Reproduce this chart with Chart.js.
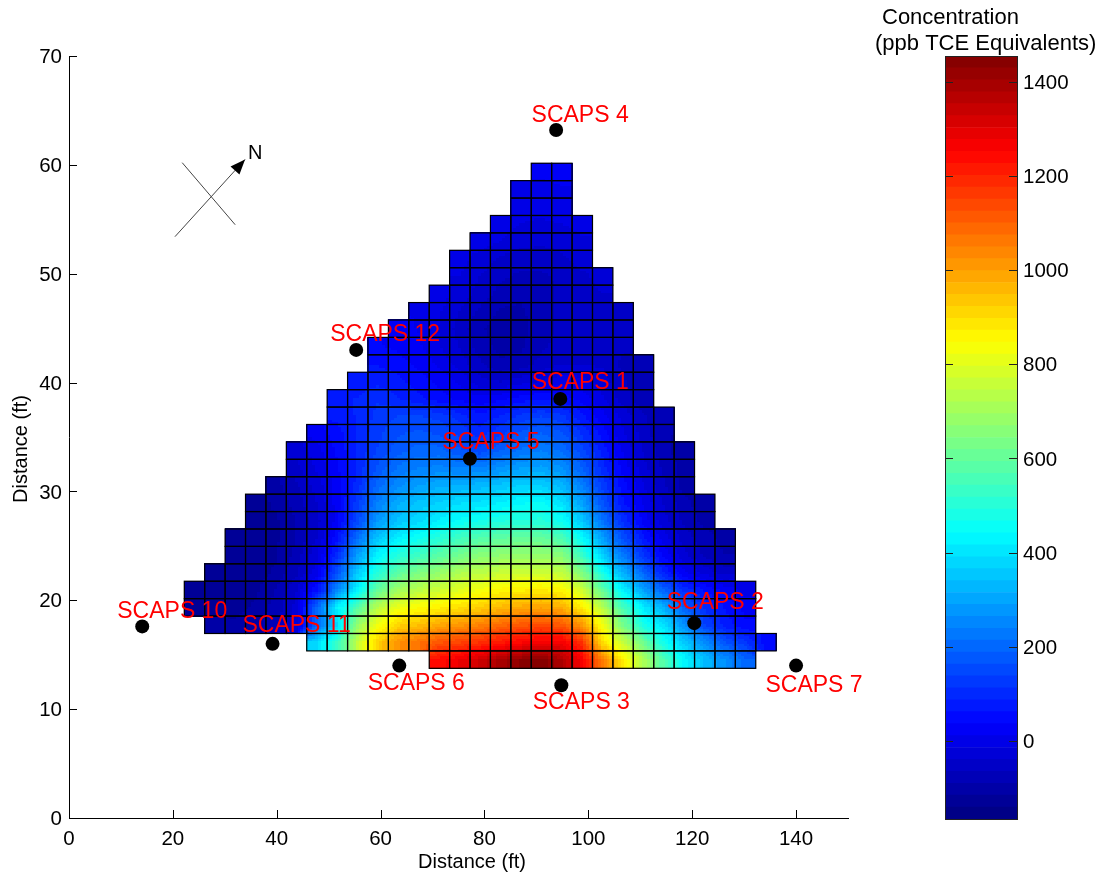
<!DOCTYPE html>
<html><head><meta charset="utf-8">
<style>html,body{margin:0;padding:0;background:#fff}canvas{position:absolute;left:0;top:0}</style>
<script src="https://cdn.jsdelivr.net/npm/chart.js@4"></script>
</head><body>
<canvas id="main" width="1107" height="876"></canvas>
<canvas id="bar" width="1107" height="876"></canvas>
<script>
// ---- data ----
const xTicks=[0,20,40,60,80,100,120,140];
const yTicks=[0,10,20,30,40,50,60,70];
const colorTicks=[0,200,400,600,800,1000,1200,1400];
const colorMin=-166, colorMax=1455;
const wellNames=['SCAPS 1','SCAPS 2','SCAPS 3','SCAPS 4','SCAPS 5','SCAPS 6','SCAPS 7','SCAPS 10','SCAPS 11','SCAPS 12'];
const wellX=[94.6,120.4,94.8,93.8,77.2,63.6,140,14.1,39.2,55.3];
const wellY=[38.5,17.9,12.2,63.2,33.0,14.0,14.0,17.6,16.0,43.0];
const labelDx=[20,21,20,24,21,17,18,30,24,29];
const labelDy=[-16,-20,17,-14,-16,18,20,-15,-18,-15];
// first occupied column of each row, bottom row first
const rowStart=[12,6,1,0,0,1,2,2,3,3,4,5,5,6,7,7,8,9,9,10,11,12,13,13,14,15,16,16,17];
const row00=[1240,1280,1330,1390,1430,1450,1380,1270,1060,880,720,570,440,340,265,200];
const row01=[380,520,750,920,1020,1070,1120,1150,1180,1220,1250,1270,1270,1180,900,760,620,470,360,260,170,120,50];
const row02=[-100,-110,-100,-70,-30,200,380,680,830,920,950,990,1020,1050,1090,1120,1140,1120,1020,830,640,480,400,270,140,80,40];
const row03=[-120,-130,-125,-110,-80,-30,200,420,580,740,820,850,870,900,930,960,990,1000,980,880,740,560,420,320,200,110,60,30];
const row04=[-130,-130,-130,-120,-90,-40,60,240,430,600,700,740,770,800,830,860,870,880,860,780,600,430,300,190,110,60,30,0];
const row05=[-140,-140,-130,-110,-70,0,160,360,500,590,640,680,720,740,760,770,770,750,650,480,320,200,90,20,-20,-50];
const row06=[-140,-130,-120,-80,-20,100,290,430,500,540,580,620,660,670,680,680,660,540,370,230,120,30,-30,-70,-90];
const row07=[-140,-130,-120,-90,-40,50,210,350,420,460,500,540,570,590,600,600,560,450,290,160,70,0,-50,-80,-100];
const row08=[-130,-120,-90,-50,20,150,280,350,380,420,450,470,490,500,500,460,360,220,110,30,-30,-70,-100];
const row09=[-130,-110,-80,-40,20,130,240,310,350,370,390,400,420,440,450,400,300,170,70,10,-40,-80,-110];
const row10=[-100,-70,-30,20,100,200,260,290,310,320,330,350,370,370,330,240,130,50,-10,-60,-100];
const row11=[-50,-10,30,90,170,220,240,250,240,240,270,290,300,270,190,100,30,-30,-70,-100];
const row12=[-30,0,40,90,140,180,200,200,170,150,190,220,240,210,150,80,10,-40,-80,-110];
const row13=[20,50,90,130,160,170,160,130,100,130,170,190,170,110,50,-10,-50,-90];
const row14=[70,90,120,140,140,130,100,70,90,120,140,120,70,20,-20,-60,-90];
const row15=[80,90,110,90,70,50,30,20,30,50,60,50,30,-10,-50,-85];
const row16=[70,80,70,50,30,5,-30,-40,-25,-10,0,-5,-25,-60,-85];
const row17=[60,50,30,5,-25,-60,-85,-80,-55,-40,-40,-45,-70,-80];
const row18=[40,30,15,-10,-40,-75,-100,-95,-70,-55,-50,-55,-60];
const row19=[20,10,-15,-50,-85,-105,-100,-75,-60,-55,-55,-55];
const row20=[10,-10,-40,-70,-95,-95,-75,-60,-50,-50,-45];
const row21=[0,-25,-50,-75,-85,-75,-60,-50,-40];
const row22=[-15,-40,-60,-70,-70,-60,-45,-30];
const row23=[-5,-25,-45,-55,-55,-45,-30];
const row24=[0,-15,-30,-35,-30,-20];
const row25=[0,-15,-20,-15,-5];
const row26=[0,-5,5];
const row27=[10,5,10];
const row28=[15,15];
const rows=[row00,row01,row02,row03,row04,row05,row06,row07,row08,row09,row10,row11,row12,row13,row14,row15,row16,row17,row18,row19,row20,row21,row22,row23,row24,row25,row26,row27,row28];
// mesh geometry in axis units
const cellX0=22.2, cellW=3.93, cellY0=13.75, cellH=1.6;
// north arrow in axis units
const compassA=[[21.8,60.2],[32.0,54.5]];
const compassB=[[20.4,53.4],[33.9,60.5]];

// ---- helpers ----
const FONT='"Liberation Sans", Arial, sans-serif';
const LEVELS=64;
function jet(idx){
  const t=(idx+0.5)/LEVELS, c=v=>Math.round(255*Math.max(0,Math.min(1,1.5-Math.abs(4*t-v))));
  return `rgb(${c(3)},${c(2)},${c(1)})`;
}
function colorOf(v){
  let i=Math.floor((v-colorMin)/(colorMax-colorMin)*LEVELS);
  return jet(Math.max(0,Math.min(LEVELS-1,i)));
}
const cell=(r,c)=>{const a=rows[r];if(!a)return undefined;return a[c-rowStart[r]];};
// shading between neighbouring cell values; missing neighbours are skipped
function shade(u,v){
  const c0=Math.floor(u),r0=Math.floor(v),fu=u-c0,fv=v-r0;
  let s=0,w=0;
  [[r0,c0,(1-fu)*(1-fv)],[r0,c0+1,fu*(1-fv)],[r0+1,c0,(1-fu)*fv],[r0+1,c0+1,fu*fv]].forEach(([r,c,k])=>{
    const val=cell(r,c); if(val!==undefined&&k>0){s+=val*k;w+=k;}
  });
  return w>0?s/w:0;
}
const cellPoints=[];
rows.forEach((a,r)=>a.forEach((val,i)=>{
  cellPoints.push({x:cellX0+(rowStart[r]+i+0.5)*cellW,y:cellY0+(r+0.5)*cellH,v:val,r:r,c:rowStart[r]+i});
}));

const heat={id:'heat',beforeDatasetsDraw(ch){
  const ctx=ch.ctx,X=ch.scales.x,Y=ch.scales.y,N=7;
  ctx.save();
  cellPoints.forEach(p=>{
    for(let i=0;i<N;i++)for(let j=0;j<N;j++){
      const fx=(i+0.5)/N,fy=(j+0.5)/N;
      const val=shade(p.c+fx-0.5,p.r+fy-0.5);
      const x0=Math.floor(X.getPixelForValue(cellX0+(p.c+i/N)*cellW));
      const x1=Math.ceil(X.getPixelForValue(cellX0+(p.c+(i+1)/N)*cellW));
      const y1=Math.ceil(Y.getPixelForValue(cellY0+(p.r+j/N)*cellH));
      const y0=Math.floor(Y.getPixelForValue(cellY0+(p.r+(j+1)/N)*cellH));
      ctx.fillStyle=colorOf(val);
      ctx.fillRect(x0,y0,x1-x0,y1-y0);
    }
  });
  ctx.strokeStyle='#000';ctx.lineWidth=1.2;
  cellPoints.forEach(p=>{
    const x0=X.getPixelForValue(cellX0+p.c*cellW);
    const x1=X.getPixelForValue(cellX0+(p.c+1)*cellW);
    const y1=Y.getPixelForValue(cellY0+p.r*cellH);
    const y0=Y.getPixelForValue(cellY0+(p.r+1)*cellH);
    ctx.strokeRect(x0,y0,x1-x0,y1-y0);
  });
  ctx.restore();
},afterDatasetsDraw(ch){
  const ctx=ch.ctx,X=ch.scales.x,Y=ch.scales.y;
  ctx.save();
  // inward ticks
  ctx.strokeStyle='#000';ctx.lineWidth=1;ctx.beginPath();
  xTicks.forEach(t=>{const p=Math.round(X.getPixelForValue(t))+.5;ctx.moveTo(p,Y.bottom);ctx.lineTo(p,Y.bottom-8);});
  yTicks.forEach(t=>{const p=Math.round(Y.getPixelForValue(t))+.5;ctx.moveTo(X.left,p);ctx.lineTo(X.left+8,p);});
  ctx.stroke();
  // well labels
  ctx.fillStyle='#ff0000';ctx.font='23px '+FONT;ctx.textAlign='center';ctx.textBaseline='middle';
  wellNames.forEach((n,i)=>ctx.fillText(n,X.getPixelForValue(wellX[i])+labelDx[i],Y.getPixelForValue(wellY[i])+labelDy[i]));
  // compass
  const P=a=>[X.getPixelForValue(a[0]),Y.getPixelForValue(a[1])];
  ctx.strokeStyle='#444';ctx.lineWidth=1;ctx.beginPath();
  let a=P(compassA[0]),b=P(compassA[1]);ctx.moveTo(a[0],a[1]);ctx.lineTo(b[0],b[1]);
  a=P(compassB[0]);b=P(compassB[1]);ctx.moveTo(a[0],a[1]);ctx.lineTo(b[0],b[1]);ctx.stroke();
  const ang=Math.atan2(b[1]-a[1],b[0]-a[0]);
  ctx.save();ctx.translate(b[0],b[1]);ctx.rotate(ang);ctx.fillStyle='#000';ctx.beginPath();ctx.moveTo(0,0);ctx.lineTo(-15,-6);ctx.lineTo(-15,6);ctx.closePath();ctx.fill();ctx.restore();
  ctx.fillStyle='#000';ctx.font='20px '+FONT;ctx.textAlign='left';ctx.textBaseline='middle';
  ctx.fillText('N',b[0]+3,b[1]-6);
  // axis titles
  ctx.textAlign='center';
  ctx.fillText('Distance (ft)',472,862);
  ctx.translate(21,449);ctx.rotate(-Math.PI/2);ctx.fillText('Distance (ft)',0,0);
  ctx.restore();
}};

new Chart(document.getElementById('main'),{
  type:'scatter',
  data:{datasets:[{
    label:'SCAPS',
    data:wellX.map((x,i)=>({x:x,y:wellY[i]})),
    pointRadius:7,pointHoverRadius:7,pointStyle:'circle',backgroundColor:'#000',borderColor:'#000',borderWidth:0,showLine:false,order:1
  },{
    label:'Concentration cells',data:cellPoints,pointRadius:0,pointHoverRadius:0,showLine:false,order:2
  }]},
  options:{
    responsive:false,animation:false,devicePixelRatio:1,
    layout:{padding:{left:0,top:56,right:1107-848,bottom:0}},
    plugins:{legend:{display:false},tooltip:{enabled:false}},
    scales:{
      x:{type:'linear',min:0,max:150,
        afterBuildTicks:s=>{s.ticks=xTicks.map(v=>({value:v}));},
        afterFit:s=>{s.height=876-818;},
        grid:{display:true,drawOnChartArea:false,drawTicks:false},border:{display:true,color:'#000',width:1},
        ticks:{color:'#000',font:{family:FONT,size:20.5},padding:9,maxRotation:0,autoSkip:false,callback:v=>String(v)}},
      y:{type:'linear',min:0,max:70,
        afterBuildTicks:s=>{s.ticks=yTicks.map(v=>({value:v}));},
        afterFit:s=>{s.width=69;},
        grid:{display:true,drawOnChartArea:false,drawTicks:false},border:{display:true,color:'#000',width:1},
        ticks:{color:'#000',font:{family:FONT,size:20.5},padding:7,autoSkip:false,labelOffset:1.5,callback:v=>String(v)}}
    }
  },
  plugins:[heat]
});

// ---- colour bar ----
const levelDatasets=[];
for(let i=0;i<LEVELS;i++){
  const lo=colorMin+(colorMax-colorMin)*i/LEVELS, hi=colorMin+(colorMax-colorMin)*(i+1)/LEVELS;
  levelDatasets.push({label:'level '+i,data:[[lo,hi]],backgroundColor:jet(i),borderWidth:0,barPercentage:1,categoryPercentage:1,grouped:false});
}
const barDeco={id:'barDeco',afterDatasetsDraw(ch){
  const ctx=ch.ctx,a=ch.chartArea,Y=ch.scales.y;
  ctx.save();
  ctx.strokeStyle='#222';ctx.lineWidth=1;
  ctx.strokeRect(Math.round(a.left)+.5,Math.round(a.top)+.5,Math.round(a.right-a.left),Math.round(a.bottom-a.top));
  ctx.beginPath();
  colorTicks.forEach(t=>{const p=Math.round(Y.getPixelForValue(t))+.5;ctx.moveTo(a.left,p);ctx.lineTo(a.left+8,p);ctx.moveTo(a.right,p);ctx.lineTo(a.right-8,p);});
  ctx.stroke();
  ctx.fillStyle='#000';ctx.font='22px '+FONT;ctx.textAlign='left';ctx.textBaseline='middle';
  ctx.fillText('Concentration',882,18);
  ctx.fillText('(ppb TCE Equivalents)',875,44);
  ctx.restore();
}};
new Chart(document.getElementById('bar'),{
  type:'bar',
  data:{labels:['Concentration'],datasets:levelDatasets},
  options:{
    responsive:false,animation:false,devicePixelRatio:1,
    layout:{padding:{left:945,top:56,right:0,bottom:876-819}},
    plugins:{legend:{display:false},tooltip:{enabled:false}},
    scales:{
      x:{display:false},
      y:{type:'linear',position:'right',min:colorMin,max:colorMax,
        afterBuildTicks:s=>{s.ticks=colorTicks.map(v=>({value:v}));},
        afterFit:s=>{s.width=1107-1017;},
        grid:{display:false,drawTicks:false},border:{display:false},
        ticks:{color:'#000',font:{family:FONT,size:20.5},padding:6,autoSkip:false,labelOffset:1.5,callback:v=>String(v)}}
    }
  },
  plugins:[barDeco]
});
</script>
</body></html>
